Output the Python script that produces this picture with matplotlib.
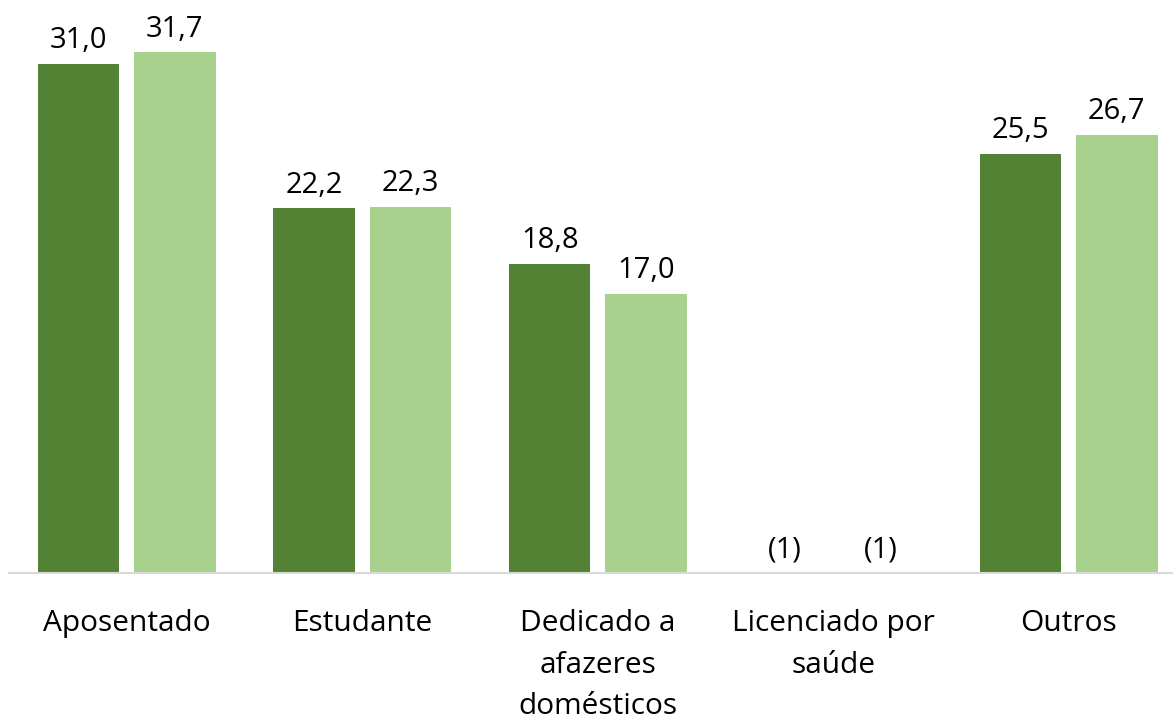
import matplotlib
matplotlib.use("Agg")
import matplotlib.pyplot as plt
import numpy as np

categories = ["Aposentado", "Estudante", "Dedicado a\nafazeres\ndomésticos", "Licenciado por\nsaúde", "Outros"]
serie1 = [31.0, 22.2, 18.8, np.nan, 25.5]
serie2 = [31.7, 22.3, 17.0, np.nan, 26.7]
colors = ["#548235", "#A9D18E"]

plt.rcParams['font.family'] = ['Open Sans', 'DejaVu Sans']

fig = plt.figure(figsize=(11.73, 7.17), dpi=100)
W, H = 1173, 717
ax = fig.add_axes([9 / W, 144 / H, 1164 / W, 573 / H])

x = np.arange(len(categories))
off = 0.204
bw = 0.346
for vals, dx, c in [(serie1, -off, colors[0]), (serie2, off, colors[1])]:
    v = np.nan_to_num(np.array(vals, dtype=float), nan=0.0)
    ax.bar(x + dx, v, width=bw, color=c)
    for xi, raw, vi in zip(x, vals, v):
        label = "(1)" if np.isnan(raw) else f"{raw:.1f}".replace(".", ",")
        ax.annotate(label, (xi + dx, vi), xytext=(0, 11.5), textcoords="offset points",
                    ha="center", va="baseline", fontsize=21, color="#000000")

ax.set_xlim(-0.5, -0.5 + 1164 / 235.5)
ax.set_ylim(0, 573 / 16.42)
ax.set_xticks(x)
ax.set_xticklabels(categories, fontsize=21.5, linespacing=1.57)
ax.tick_params(axis="x", length=0, pad=26)
ax.set_yticks([])
for s in ["top", "right", "left"]:
    ax.spines[s].set_visible(False)
ax.spines["bottom"].set_color("#D9D9D9")
ax.spines["bottom"].set_linewidth(1.5)

fig.savefig("out.png", dpi=100)
